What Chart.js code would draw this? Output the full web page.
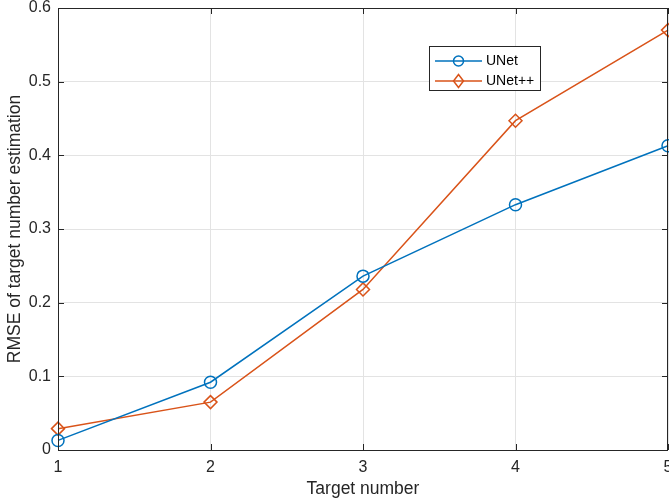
<!DOCTYPE html>
<html>
<head>
<meta charset="utf-8">
<script src="https://cdn.jsdelivr.net/npm/chart.js@4/dist/chart.umd.min.js"></script>
<style>
  html, body { margin: 0; padding: 0; background: #fff; }
  #wrap { width: 669px; height: 501px; }
</style>
</head>
<body>
<div id="wrap"><canvas id="c" width="669" height="501"></canvas></div>
<script>
// Target counts on the x axis
const targetNumbers = [1, 2, 3, 4, 5];
// RMSE of the target-number estimate for each network
const unetRmse = [0.013, 0.092, 0.236, 0.333, 0.413];
const unetPlusPlusRmse = [0.029, 0.065, 0.218, 0.447, 0.570];
// Axis tick values
const xTicks = [1, 2, 3, 4, 5];
const yTicks = [0, 0.1, 0.2, 0.3, 0.4, 0.5, 0.6];

const seriesNames = ['UNet', 'UNet++'];
const AXIS = '#262626';
const BLUE = '#0072BD';
const ORANGE = '#D95319';
const FONT = '"Liberation Sans", Arial, Helvetica, sans-serif';

const toPoints = ys => targetNumbers.map((x, i) => ({ x, y: ys[i] }));

// Box outline, inward tick marks on all four sides, and the inset legend
const boxPlugin = {
  id: 'boxAxes',
  afterDatasetsDraw(chart) {
    const { ctx, chartArea: a, scales: { x, y } } = chart;
    const tl = 6;
    ctx.save();
    ctx.strokeStyle = AXIS;
    ctx.lineWidth = 1;
    ctx.beginPath();
    xTicks.forEach(v => {
      const px = Math.round(x.getPixelForValue(v)) + 0.5;
      ctx.moveTo(px, a.bottom); ctx.lineTo(px, a.bottom - tl);
      ctx.moveTo(px, a.top); ctx.lineTo(px, a.top + tl);
    });
    yTicks.forEach(v => {
      const py = Math.round(y.getPixelForValue(v)) + 0.5;
      ctx.moveTo(a.left, py); ctx.lineTo(a.left + tl, py);
      ctx.moveTo(a.right, py); ctx.lineTo(a.right - tl, py);
    });
    ctx.stroke();
    ctx.strokeRect(Math.round(a.left) + 0.5, Math.round(a.top) + 0.5,
                   Math.round(a.right - a.left) - 1, Math.round(a.bottom - a.top));

    // legend
    const lx = 429.5, ly = 46.5, lw = 111, lh = 44;
    ctx.fillStyle = '#fff';
    ctx.fillRect(lx, ly, lw, lh);
    ctx.strokeStyle = AXIS;
    ctx.strokeRect(lx, ly, lw, lh);
    const rows = [
      { name: seriesNames[0], color: BLUE, style: 'circle', yy: 61 },
      { name: seriesNames[1], color: ORANGE, style: 'diamond', yy: 81 }
    ];
    rows.forEach(r => {
      ctx.strokeStyle = r.color;
      ctx.lineWidth = 1.5;
      ctx.beginPath();
      ctx.moveTo(435, r.yy); ctx.lineTo(482, r.yy);
      ctx.stroke();
      ctx.beginPath();
      if (r.style === 'circle') {
        ctx.arc(458.5, r.yy, 5, 0, Math.PI * 2);
      } else {
        ctx.moveTo(458.5, r.yy - 6.5); ctx.lineTo(463.5, r.yy);
        ctx.lineTo(458.5, r.yy + 6.5); ctx.lineTo(453.5, r.yy);
        ctx.closePath();
      }
      ctx.stroke();
      ctx.fillStyle = '#000';
      ctx.font = '14px ' + FONT;
      ctx.textBaseline = 'middle';
      ctx.textAlign = 'left';
      ctx.fillText(r.name, 486, r.yy + 0.5);
    });
    ctx.restore();
  }
};

new Chart(document.getElementById('c'), {
  type: 'line',
  data: {
    datasets: [
      {
        label: seriesNames[0],
        data: toPoints(unetRmse),
        borderColor: BLUE,
        backgroundColor: 'rgba(0,0,0,0)',
        borderWidth: 1.5,
        pointStyle: 'circle',
        pointRadius: 6,
        pointBorderWidth: 1.5,
        pointBackgroundColor: 'rgba(0,0,0,0)',
        pointBorderColor: BLUE,
        tension: 0,
        clip: false
      },
      {
        label: seriesNames[1],
        data: toPoints(unetPlusPlusRmse),
        borderColor: ORANGE,
        backgroundColor: 'rgba(0,0,0,0)',
        borderWidth: 1.5,
        pointStyle: 'rectRot',
        pointRadius: 6.5,
        pointBorderWidth: 1.5,
        pointBackgroundColor: 'rgba(0,0,0,0)',
        pointBorderColor: ORANGE,
        tension: 0,
        clip: false
      }
    ]
  },
  options: {
    responsive: false,
    animation: false,
    events: [],
    layout: { autoPadding: false, padding: { top: 8, right: 1, left: 0, bottom: 0 } },
    plugins: { legend: { display: false }, tooltip: { enabled: false } },
    scales: {
      x: {
        type: 'linear',
        min: 1, max: 5,
        afterBuildTicks: s => { s.ticks = xTicks.map(v => ({ value: v })); },
        afterFit: s => { s.height = 51; s.paddingLeft = 0; s.paddingRight = 0; },
        grid: { color: '#e3e3e3', drawTicks: false, lineWidth: 1 },
        border: { display: false },
        ticks: { color: AXIS, font: { family: FONT, size: 16 }, padding: 8, maxRotation: 0,
                 callback: v => String(v) },
        title: { display: true, text: 'Target number', color: AXIS,
                 font: { family: FONT, size: 17.5 }, padding: { top: 0, bottom: 1 } }
      },
      y: {
        type: 'linear',
        min: 0, max: 0.6,
        afterBuildTicks: s => { s.ticks = yTicks.map(v => ({ value: v })); },
        afterFit: s => { s.width = 58; s.paddingTop = 0; s.paddingBottom = 0; },
        grid: { color: '#e3e3e3', drawTicks: false, lineWidth: 1 },
        border: { display: false },
        ticks: { color: AXIS, font: { family: FONT, size: 16 }, padding: 7,
                 callback: v => String(Math.round(v * 10) / 10) },
        title: { display: true, text: 'RMSE of target number estimation', color: AXIS,
                 font: { family: FONT, size: 17.5 }, padding: { top: 4.5, bottom: 0 } }
      }
    }
  },
  plugins: [boxPlugin]
});
</script>
</body>
</html>
